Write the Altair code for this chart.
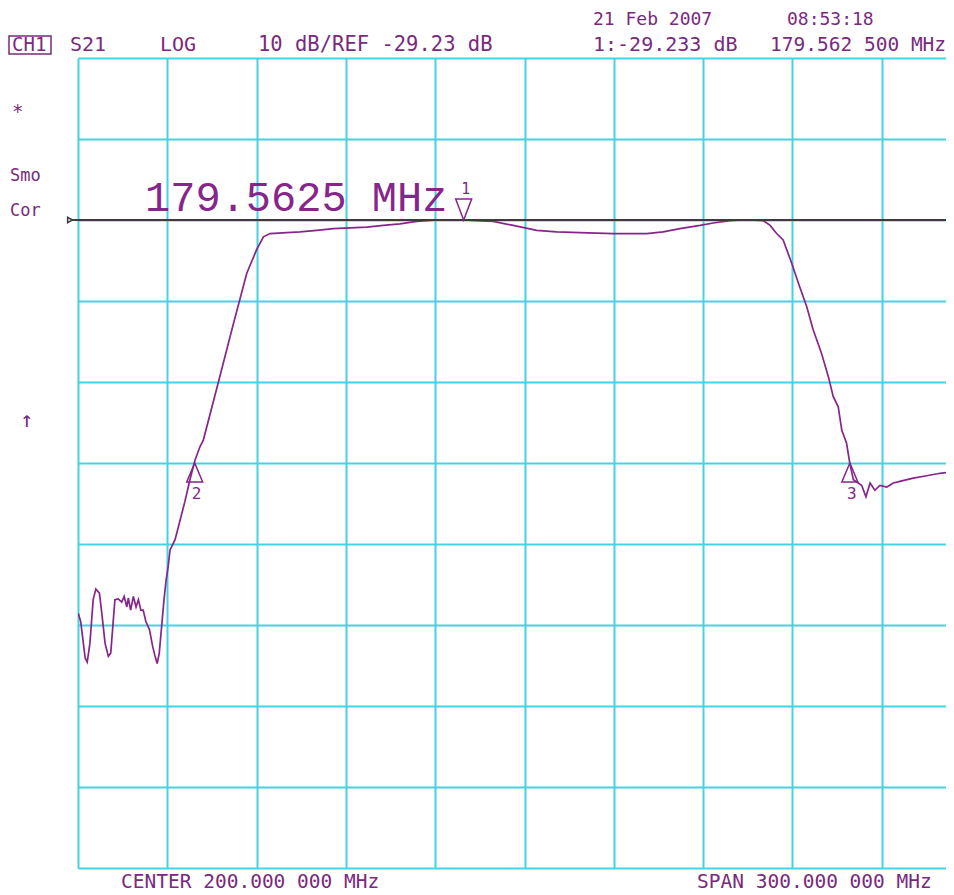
import altair as alt
import pandas as pd

# ---- instrument settings ----
center_mhz = 200.0
span_mhz = 300.0
db_per_div = 10.0
ref_db = -29.23

# ---- S21 trace ----
freq_mhz = [50.1, 50.9, 52.4, 53.1, 54.0, 55.1, 56.0, 57.2, 58.0, 59.1,
            60.2, 61.0, 61.7, 62.4, 63.5, 64.7, 65.5, 66.4, 66.9, 67.7,
            68.6, 69.5, 70.3, 71.1, 71.9, 72.8, 74.0, 75.1, 75.9, 76.6,
            77.3, 78.1, 78.9, 79.6, 80.3, 80.9, 82.6, 84.3, 85.9, 87.6,
            89.3, 91.0, 92.1, 97.2, 102.1, 106.7, 110.0, 112.3, 114.5, 120.1,
            124.6, 130.2, 135.8, 141.4, 147.0, 152.6, 158.2, 163.8, 169.4, 179.56,
            183.9, 189.5, 196.2, 204.1, 210.8, 218.6, 229.8, 241.1, 246.6, 252.2,
            259.0, 263.4, 269.0, 274.6, 280.2, 282.5, 284.7, 286.9, 289.8, 292.0,
            294.8, 297.0, 299.8, 302.1, 303.7, 305.4, 306.6, 308.2, 309.3, 310.5,
            312.1, 313.3, 314.7, 316.1, 317.7, 319.4, 321.7, 323.9, 326.1, 330.6,
            335.1, 339.6, 344.1, 350.0]
s21_db = [-77.8, -78.8, -83.3, -83.8, -81.5, -76.1, -74.8, -75.3, -77.8, -81.5,
          -83.1, -82.7, -79.4, -76.1, -76.0, -76.4, -75.7, -77.0, -75.9, -77.4,
          -75.7, -77.0, -76.1, -77.4, -77.4, -78.8, -79.8, -81.9, -83.1, -84.0,
          -82.7, -79.4, -76.1, -73.7, -72.0, -70.0, -68.7, -66.3, -64.0, -61.3,
          -58.9, -57.2, -56.4, -49.2, -42.2, -35.8, -32.9, -31.3, -30.9, -30.8,
          -30.7, -30.5, -30.3, -30.2, -30.1, -29.9, -29.7, -29.4, -29.25, -29.233,
          -29.3, -29.4, -29.9, -30.5, -30.7, -30.8, -30.9, -30.9, -30.7, -30.3,
          -29.9, -29.6, -29.3, -29.2, -29.3, -29.9, -30.9, -31.7, -34.6, -37.0,
          -39.9, -42.8, -45.7, -48.6, -51.0, -52.3, -55.2, -56.8, -59.3, -61.3,
          -61.7, -62.0, -63.4, -61.7, -62.6, -62.0, -62.2, -61.7, -61.5, -61.1,
          -60.8, -60.5, -60.3, -60.0]

# ---- markers ----
marker_ids = ["1", "2", "3"]
marker_freq = [179.5625, 89.2, 309.3]
marker_db = [-29.233, -59.23, -59.23]

# ---- screen texts ----
date_text = "21 Feb 2007"
time_text = "08:53:18"
ch_text = "CH1"
param_text = "S21"
format_text = "LOG"
scale_text = "10 dB/REF -29.23 dB"
mkr_val_text = "1:-29.233 dB"
mkr_freq_text = "179.562 500 MHz"
big_text = "179.5625 MHz"
center_text = "CENTER 200.000 000 MHz"
span_text = "SPAN 300.000 000 MHz"
side_texts = ["*", "Smo", "Cor", "\u2191"]

PURPLE = "#86258a"
TXT = "#7a2a7e"
CYAN = "#45d2e2"
DARK = "#3c3c3c"

PLOT_W = 868
PLOT_H = 810
DIV_PX = 89.3

start_mhz = center_mhz - span_mhz / 2
x_grid = [start_mhz + i * span_mhz / 10 for i in range(10)]
top_db = ref_db + 2 * db_per_div
y_grid = [top_db - i * db_per_div for i in range(11)]
x_dom = [start_mhz, start_mhz + PLOT_W / (10 * DIV_PX) * span_mhz]
y_dom = [y_grid[-1], y_grid[0]]

trace = pd.DataFrame({"freq": freq_mhz, "db": s21_db})
mk = pd.DataFrame({"id": marker_ids, "freq": marker_freq, "db": marker_db})
ref = pd.DataFrame({"db": [ref_db]})
one = pd.DataFrame({"a": [0]})

X = alt.X("freq:Q", scale=alt.Scale(domain=x_dom, nice=False, zero=False),
          axis=alt.Axis(values=x_grid, grid=True, gridColor=CYAN, gridWidth=2,
                        gridOpacity=1, labels=False, ticks=False, domain=False, title=None))
Y = alt.Y("db:Q", scale=alt.Scale(domain=y_dom, nice=False, zero=False),
          axis=alt.Axis(values=y_grid, grid=True, gridColor=CYAN, gridWidth=2,
                        gridOpacity=1, labels=False, ticks=False, domain=False, title=None))

line = alt.Chart(trace).mark_line(color=PURPLE, strokeWidth=1.7, clip=True).encode(x=X, y=Y)

ref_rule = alt.Chart(ref).mark_rule(color=DARK, strokeWidth=2).encode(
    y="db:Q", x=alt.value(-6), x2=alt.value(PLOT_W))
ref_arrow = alt.Chart(ref).mark_point(shape="triangle-right", filled=False, size=30,
                                      color=DARK, strokeWidth=1.5, opacity=1).encode(
    y="db:Q", x=alt.value(-8))

up = alt.Chart(mk).transform_filter(alt.datum.id != "1").mark_point(
    shape="M0,0L-0.42,1L0.42,1Z", filled=False, size=1444, strokeWidth=1.5,
    color=PURPLE, opacity=1).encode(x="freq:Q", y="db:Q")
down = alt.Chart(mk).transform_filter(alt.datum.id == "1").mark_point(
    shape="M0,0L-0.38,-1L0.38,-1Z", filled=False, size=1764, strokeWidth=1.5,
    color=PURPLE, opacity=1).encode(x="freq:Q", y="db:Q")
up_lbl = alt.Chart(mk).transform_filter(alt.datum.id != "1").mark_text(
    dy=31, dx=2, fontSize=16, font="DejaVu Sans Mono", color=PURPLE).encode(
    x="freq:Q", y="db:Q", text="id:N")
down_lbl = alt.Chart(mk).transform_filter(alt.datum.id == "1").mark_text(
    dy=-31, dx=2, fontSize=15, font="DejaVu Sans Mono", color=PURPLE).encode(
    x="freq:Q", y="db:Q", text="id:N")


def label(txt, x, y, size=19, font="DejaVu Sans Mono", color=TXT, baseline="middle"):
    return alt.Chart(one).mark_text(align="left", baseline=baseline, fontSize=size,
                                    font=font, color=color).encode(
        x=alt.value(x), y=alt.value(y), text=alt.value(txt))


texts = [
    label(date_text, 515, -33, size=18, baseline="alphabetic"),
    label(time_text, 709, -33, size=18, baseline="alphabetic"),
    label(ch_text, -66, -13),
    label(param_text, -8, -13, size=20),
    label(format_text, 82, -13, size=20),
    label(scale_text, 180, -13, size=20.5),
    label(mkr_val_text, 515, -13, size=20),
    label(mkr_freq_text, 692, -13, size=19.5),
    label(side_texts[0], -66, 54),
    label(side_texts[1], -68, 118, size=17),
    label(side_texts[2], -68, 153, size=17),
    label(side_texts[3], -58, 362, size=22),
    label(center_text, 43, 830, size=19.5, baseline="alphabetic"),
    label(span_text, 619, 830, size=19.5, baseline="alphabetic"),
    label(big_text, 67, 140, size=42, font="Liberation Mono", color=PURPLE),
]

ch_box = alt.Chart(one).mark_rect(fill=None, stroke=TXT, strokeWidth=1.5).encode(
    x=alt.value(-69), x2=alt.value(-27), y=alt.value(-22), y2=alt.value(-4))

chart = alt.layer(line, ref_rule, ref_arrow, up, down, up_lbl, down_lbl, ch_box, *texts).properties(
    width=PLOT_W, height=PLOT_H,
    autosize=alt.AutoSizeParams(type="none"),
    padding={"left": 70, "top": 50, "right": 0, "bottom": 27},
    background="white",
).configure_view(strokeWidth=0)

chart.save("out.html", embed_options={"renderer": "svg", "actions": False})
